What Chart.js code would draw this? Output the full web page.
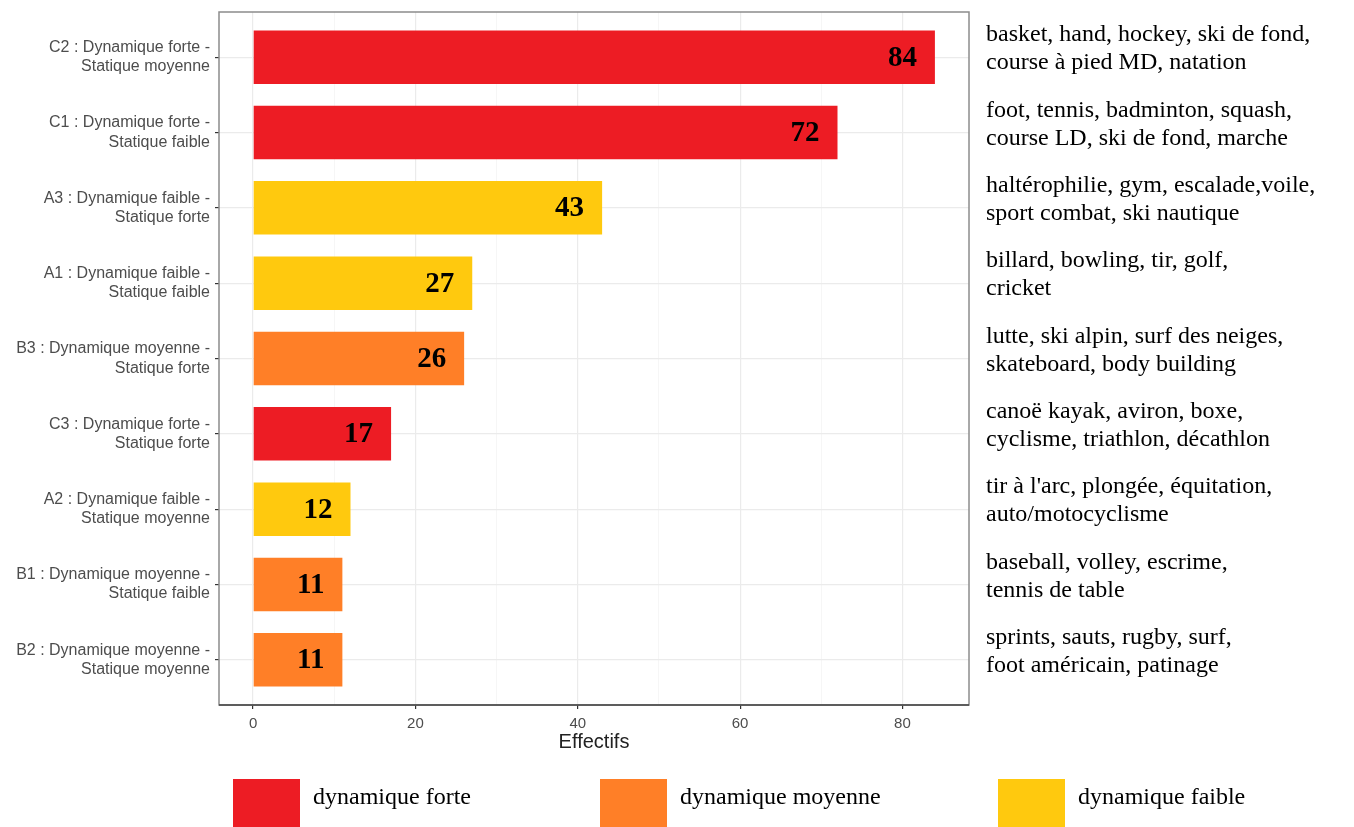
<!DOCTYPE html>
<html lang="fr">
<head>
<meta charset="UTF-8">
<title>Effectifs par catégorie de sport</title>
<script src="https://cdn.jsdelivr.net/npm/chart.js"></script>
<style>
  body { margin: 0; background: #fff; }
  #wrap { width: 1354px; height: 827px; }
</style>
</head>
<body>
<div id="wrap"><canvas id="sportChart" width="1354" height="827"></canvas></div>
<script>
// Données
const categories = [
  ['C2 : Dynamique forte -', 'Statique moyenne'],
  ['C1 : Dynamique forte -', 'Statique faible'],
  ['A3 : Dynamique faible -', 'Statique forte'],
  ['A1 : Dynamique faible -', 'Statique faible'],
  ['B3 : Dynamique moyenne -', 'Statique forte'],
  ['C3 : Dynamique forte -', 'Statique forte'],
  ['A2 : Dynamique faible -', 'Statique moyenne'],
  ['B1 : Dynamique moyenne -', 'Statique faible'],
  ['B2 : Dynamique moyenne -', 'Statique moyenne']
];
const effectifs = [84, 72, 43, 27, 26, 17, 12, 11, 11];
const dynamique = ['forte', 'forte', 'faible', 'faible', 'moyenne', 'forte', 'faible', 'moyenne', 'moyenne'];
const sports = [
  ['basket, hand, hockey, ski de fond,', 'course à pied MD, natation'],
  ['foot, tennis, badminton, squash,', 'course LD, ski de fond, marche'],
  ['haltérophilie, gym, escalade,voile,', 'sport combat, ski nautique'],
  ['billard, bowling, tir, golf,', 'cricket'],
  ['lutte, ski alpin, surf des neiges,', 'skateboard, body building'],
  ['canoë kayak, aviron, boxe,', 'cyclisme, triathlon, décathlon'],
  ['tir à l\'arc, plongée, équitation,', 'auto/motocyclisme'],
  ['baseball, volley, escrime,', 'tennis de table'],
  ['sprints, sauts, rugby, surf,', 'foot américain, patinage']
];
const xTicks = [0, 20, 40, 60, 80];
const legendKeys = ['forte', 'moyenne', 'faible'];
const legendLabels = ['dynamique forte', 'dynamique moyenne', 'dynamique faible'];

const couleurs = { forte: '#ED1C24', moyenne: '#FF7F27', faible: '#FFC90E' };
const serif = '"Liberation Serif", "Times New Roman", serif';
const sans = '"Liberation Sans", Arial, sans-serif';

// Textes, cadre et légende dessinés autour de la zone du graphique
const decorPlugin = {
  id: 'decor',
  afterDatasetsDraw(chart) {
    const ctx = chart.ctx;
    const area = chart.chartArea;
    const yScale = chart.scales.y;
    const meta = chart.getDatasetMeta(0);

    ctx.save();
    // cadre du panneau
    ctx.strokeStyle = '#8c8c8c';
    ctx.lineWidth = 1.5;
    ctx.strokeRect(area.left, area.top, area.right - area.left, area.bottom - area.top);
    ctx.strokeStyle = '#444';
    ctx.beginPath();
    ctx.moveTo(area.left, area.bottom);
    ctx.lineTo(area.right, area.bottom);
    ctx.stroke();

    // valeurs dans les barres
    ctx.fillStyle = '#000';
    ctx.font = 'bold 29px ' + serif;
    ctx.textAlign = 'right';
    ctx.textBaseline = 'middle';
    meta.data.forEach((bar, i) => {
      ctx.fillText(String(effectifs[i]), bar.x - 18, bar.y + 1);
    });

    // liste des sports à droite
    ctx.font = '24px ' + serif;
    ctx.textAlign = 'left';
    sports.forEach((lignes, i) => {
      const yc = yScale.getPixelForValue(i) - 8;
      lignes.forEach((txt, j) => {
        ctx.fillText(txt, area.right + 17, yc + (j - 0.5) * 28);
      });
    });

    // légende
    const ly = area.bottom + 74;
    const lxOffsets = [14, 381, 779];
    ctx.font = '24px ' + serif;
    legendKeys.forEach((k, i) => {
      const lx = area.left + lxOffsets[i];
      ctx.fillStyle = couleurs[k];
      ctx.fillRect(lx, ly, 67, 50);
      ctx.fillStyle = '#000';
      ctx.fillText(legendLabels[i], lx + 80, ly + 19);
    });
    ctx.restore();
  }
};

new Chart(document.getElementById('sportChart'), {
  type: 'bar',
  data: {
    datasets: [{
      label: 'Effectifs',
      data: effectifs.map((v, i) => ({ x: v, y: i })),
      backgroundColor: dynamique.map(d => couleurs[d]),
      borderWidth: 0,
      barPercentage: 0.71,
      categoryPercentage: 1
    }]
  },
  options: {
    indexAxis: 'y',
    responsive: false,
    animation: false,
    layout: { padding: { top: 12, right: 385, bottom: 72, left: 0 } },
    plugins: {
      legend: { display: false },
      tooltip: { enabled: false }
    },
    scales: {
      x: {
        type: 'linear',
        min: -4.2,
        max: 88.2,
        afterBuildTicks(scale) {
          scale.ticks = [0, 10, 20, 30, 40, 50, 60, 70, 80].map(v => ({ value: v }));
        },
        afterFit(scale) {
          scale.height = 50;
          scale.paddingLeft = 0;
          scale.paddingRight = 0;
        },
        grid: {
          color: c => (xTicks.includes(c.tick.value) ? '#EBEBEB' : '#F4F4F4'),
          lineWidth: c => (xTicks.includes(c.tick.value) ? 1.2 : 0.8),
          tickColor: c => (xTicks.includes(c.tick.value) ? '#333' : 'rgba(0,0,0,0)'),
          tickLength: 4
        },
        border: { display: false },
        ticks: {
          autoSkip: false,
          maxRotation: 0,
          padding: 6,
          color: '#4d4d4d',
          font: { family: sans, size: 15 },
          callback: v => (xTicks.includes(v) ? String(v) : '')
        },
        title: {
          display: true,
          text: 'Effectifs',
          color: '#222',
          font: { family: sans, size: 20 },
          padding: { top: 0, bottom: 1 }
        }
      },
      y: {
        type: 'linear',
        reverse: true,
        min: -0.6,
        max: categories.length - 0.4,
        offset: false,
        afterBuildTicks(scale) {
          scale.ticks = categories.map((c, i) => ({ value: i }));
        },
        afterFit(scale) {
          scale.width = 219;
          scale.paddingTop = 0;
          scale.paddingBottom = 0;
        },
        grid: {
          offset: false,
          color: '#EBEBEB',
          lineWidth: 1.2,
          tickColor: '#333',
          tickLength: 4
        },
        border: { display: false },
        ticks: {
          autoSkip: false,
          padding: 5,
          color: '#4d4d4d',
          font: { family: sans, size: 16, lineHeight: 1.2 },
          callback: v => categories[v]
        }
      }
    }
  },
  plugins: [decorPlugin]
});
</script>
</body>
</html>
